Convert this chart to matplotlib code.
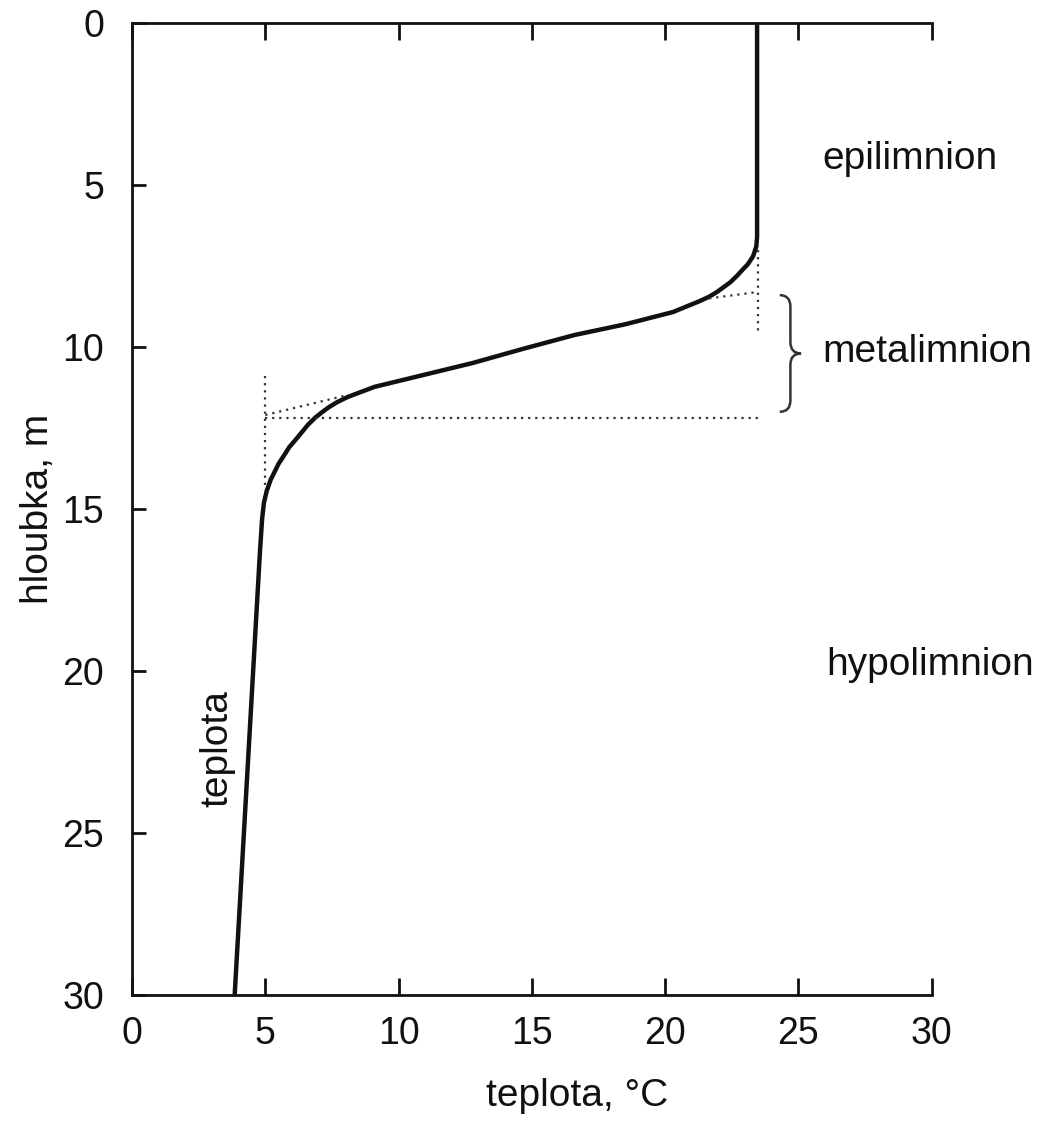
import matplotlib
matplotlib.use("Agg")
import matplotlib.pyplot as plt
from matplotlib.path import Path
from matplotlib.patches import PathPatch

plt.rcParams['font.family'] = ['Liberation Sans', 'DejaVu Sans']

# temperature profile
depth = [0, 6.6, 6.9, 7.2, 7.45, 7.62, 7.8, 8.0, 8.15, 8.3, 8.45, 8.6, 8.75,
         8.92, 9.3, 9.63, 10.05, 10.49, 10.85, 11.23, 11.4, 11.54, 11.7, 11.85,
         12.0, 12.16, 12.4, 12.6, 12.85, 13.09, 13.35, 13.6, 13.85, 14.1,
         14.45, 14.8, 15.3, 16.3, 30]
temp = [23.45, 23.45, 23.42, 23.3, 23.1, 22.9, 22.7, 22.45, 22.2, 21.95, 21.65,
        21.25, 20.8, 20.3, 18.5, 16.6, 14.7, 12.8, 11.0, 9.1, 8.55, 8.1, 7.7,
        7.4, 7.15, 6.9, 6.6, 6.4, 6.15, 5.9, 5.7, 5.5, 5.35, 5.2, 5.05, 4.95,
        4.88, 4.8, 3.85]

# dotted construction lines (temperature, depth)
guide_upper_vert_t = [23.5, 23.5]
guide_upper_vert_d = [7.0, 9.5]
guide_upper_tan_t = [21.65, 23.5]
guide_upper_tan_d = [8.5, 8.3]
guide_lower_horiz_t = [5.0, 23.5]
guide_lower_horiz_d = [12.2, 12.2]
guide_lower_vert_t = [5.0, 5.0]
guide_lower_vert_d = [10.9, 14.4]
guide_lower_tan_t = [5.0, 8.1]
guide_lower_tan_d = [12.1, 11.48]

# metalimnion brace extent
meta_top = 8.4
meta_bottom = 12.0
brace_t = 24.7

ticks = [0, 5, 10, 15, 20, 25, 30]

fig = plt.figure(figsize=(10.48, 11.21), dpi=100)
ax = fig.add_axes([0.126, 0.1124, 0.763, 0.8671])

ax.plot(temp, depth, color='#111111', lw=3.2, solid_capstyle='butt',
        solid_joinstyle='round')

dot = dict(color='#333333', lw=1.6, linestyle=(0, (1, 2.2)))
ax.plot(guide_upper_vert_t, guide_upper_vert_d, **dot)
ax.plot(guide_upper_tan_t, guide_upper_tan_d, **dot)
ax.plot(guide_lower_horiz_t, guide_lower_horiz_d, **dot)
ax.plot(guide_lower_vert_t, guide_lower_vert_d, **dot)
ax.plot(guide_lower_tan_t, guide_lower_tan_d, **dot)

# curly brace
mid = (meta_top + meta_bottom) / 2
w = 0.4
verts = [
    (brace_t - w, meta_top), (brace_t, meta_top), (brace_t, meta_top + 0.35),
    (brace_t, mid - 0.35), (brace_t, mid), (brace_t + w, mid),
    (brace_t, mid), (brace_t, mid + 0.35),
    (brace_t, meta_bottom - 0.35), (brace_t, meta_bottom), (brace_t - w, meta_bottom),
]
codes = [Path.MOVETO, Path.CURVE3, Path.CURVE3,
         Path.LINETO, Path.CURVE3, Path.CURVE3,
         Path.CURVE3, Path.CURVE3,
         Path.LINETO, Path.CURVE3, Path.CURVE3]
ax.add_patch(PathPatch(Path(verts, codes), fill=False, lw=1.8,
                       edgecolor='#333333', clip_on=False))

txt = dict(fontsize=28, color='#111111', clip_on=False)
ax.text(25.9, 4.2, 'epilimnion', ha='left', va='center', **txt)
ax.text(25.9, 10.15, 'metalimnion', ha='left', va='center', **txt)
ax.text(26.05, 19.8, 'hypolimnion', ha='left', va='center', **txt)
ax.text(3.2, 22.4, 'teplota', rotation=90, ha='center', va='center', **txt)

ax.set_xlim(0, 30)
ax.set_ylim(30, 0)
ax.set_xticks(ticks)
ax.set_yticks(ticks)
ax.spines['right'].set_visible(False)
for s in ['left', 'top', 'bottom']:
    ax.spines[s].set_linewidth(2.0)
    ax.spines[s].set_color('#111111')

ax.tick_params(axis='x', direction='in', top=True, bottom=True, length=12,
               width=2, labelsize=27, pad=15, colors='#111111')
ax.tick_params(axis='y', direction='in', left=True, right=False, length=10,
               width=2, labelsize=27, pad=20, colors='#111111')

ax.set_xlabel('teplota, °C', fontsize=28, color='#111111')
ax.xaxis.set_label_coords(0.556, -0.085)
ax.set_ylabel('hloubka, m', fontsize=28, color='#111111')
ax.yaxis.set_label_coords(-0.095, 0.5)

fig.savefig('out.png', dpi=100)
